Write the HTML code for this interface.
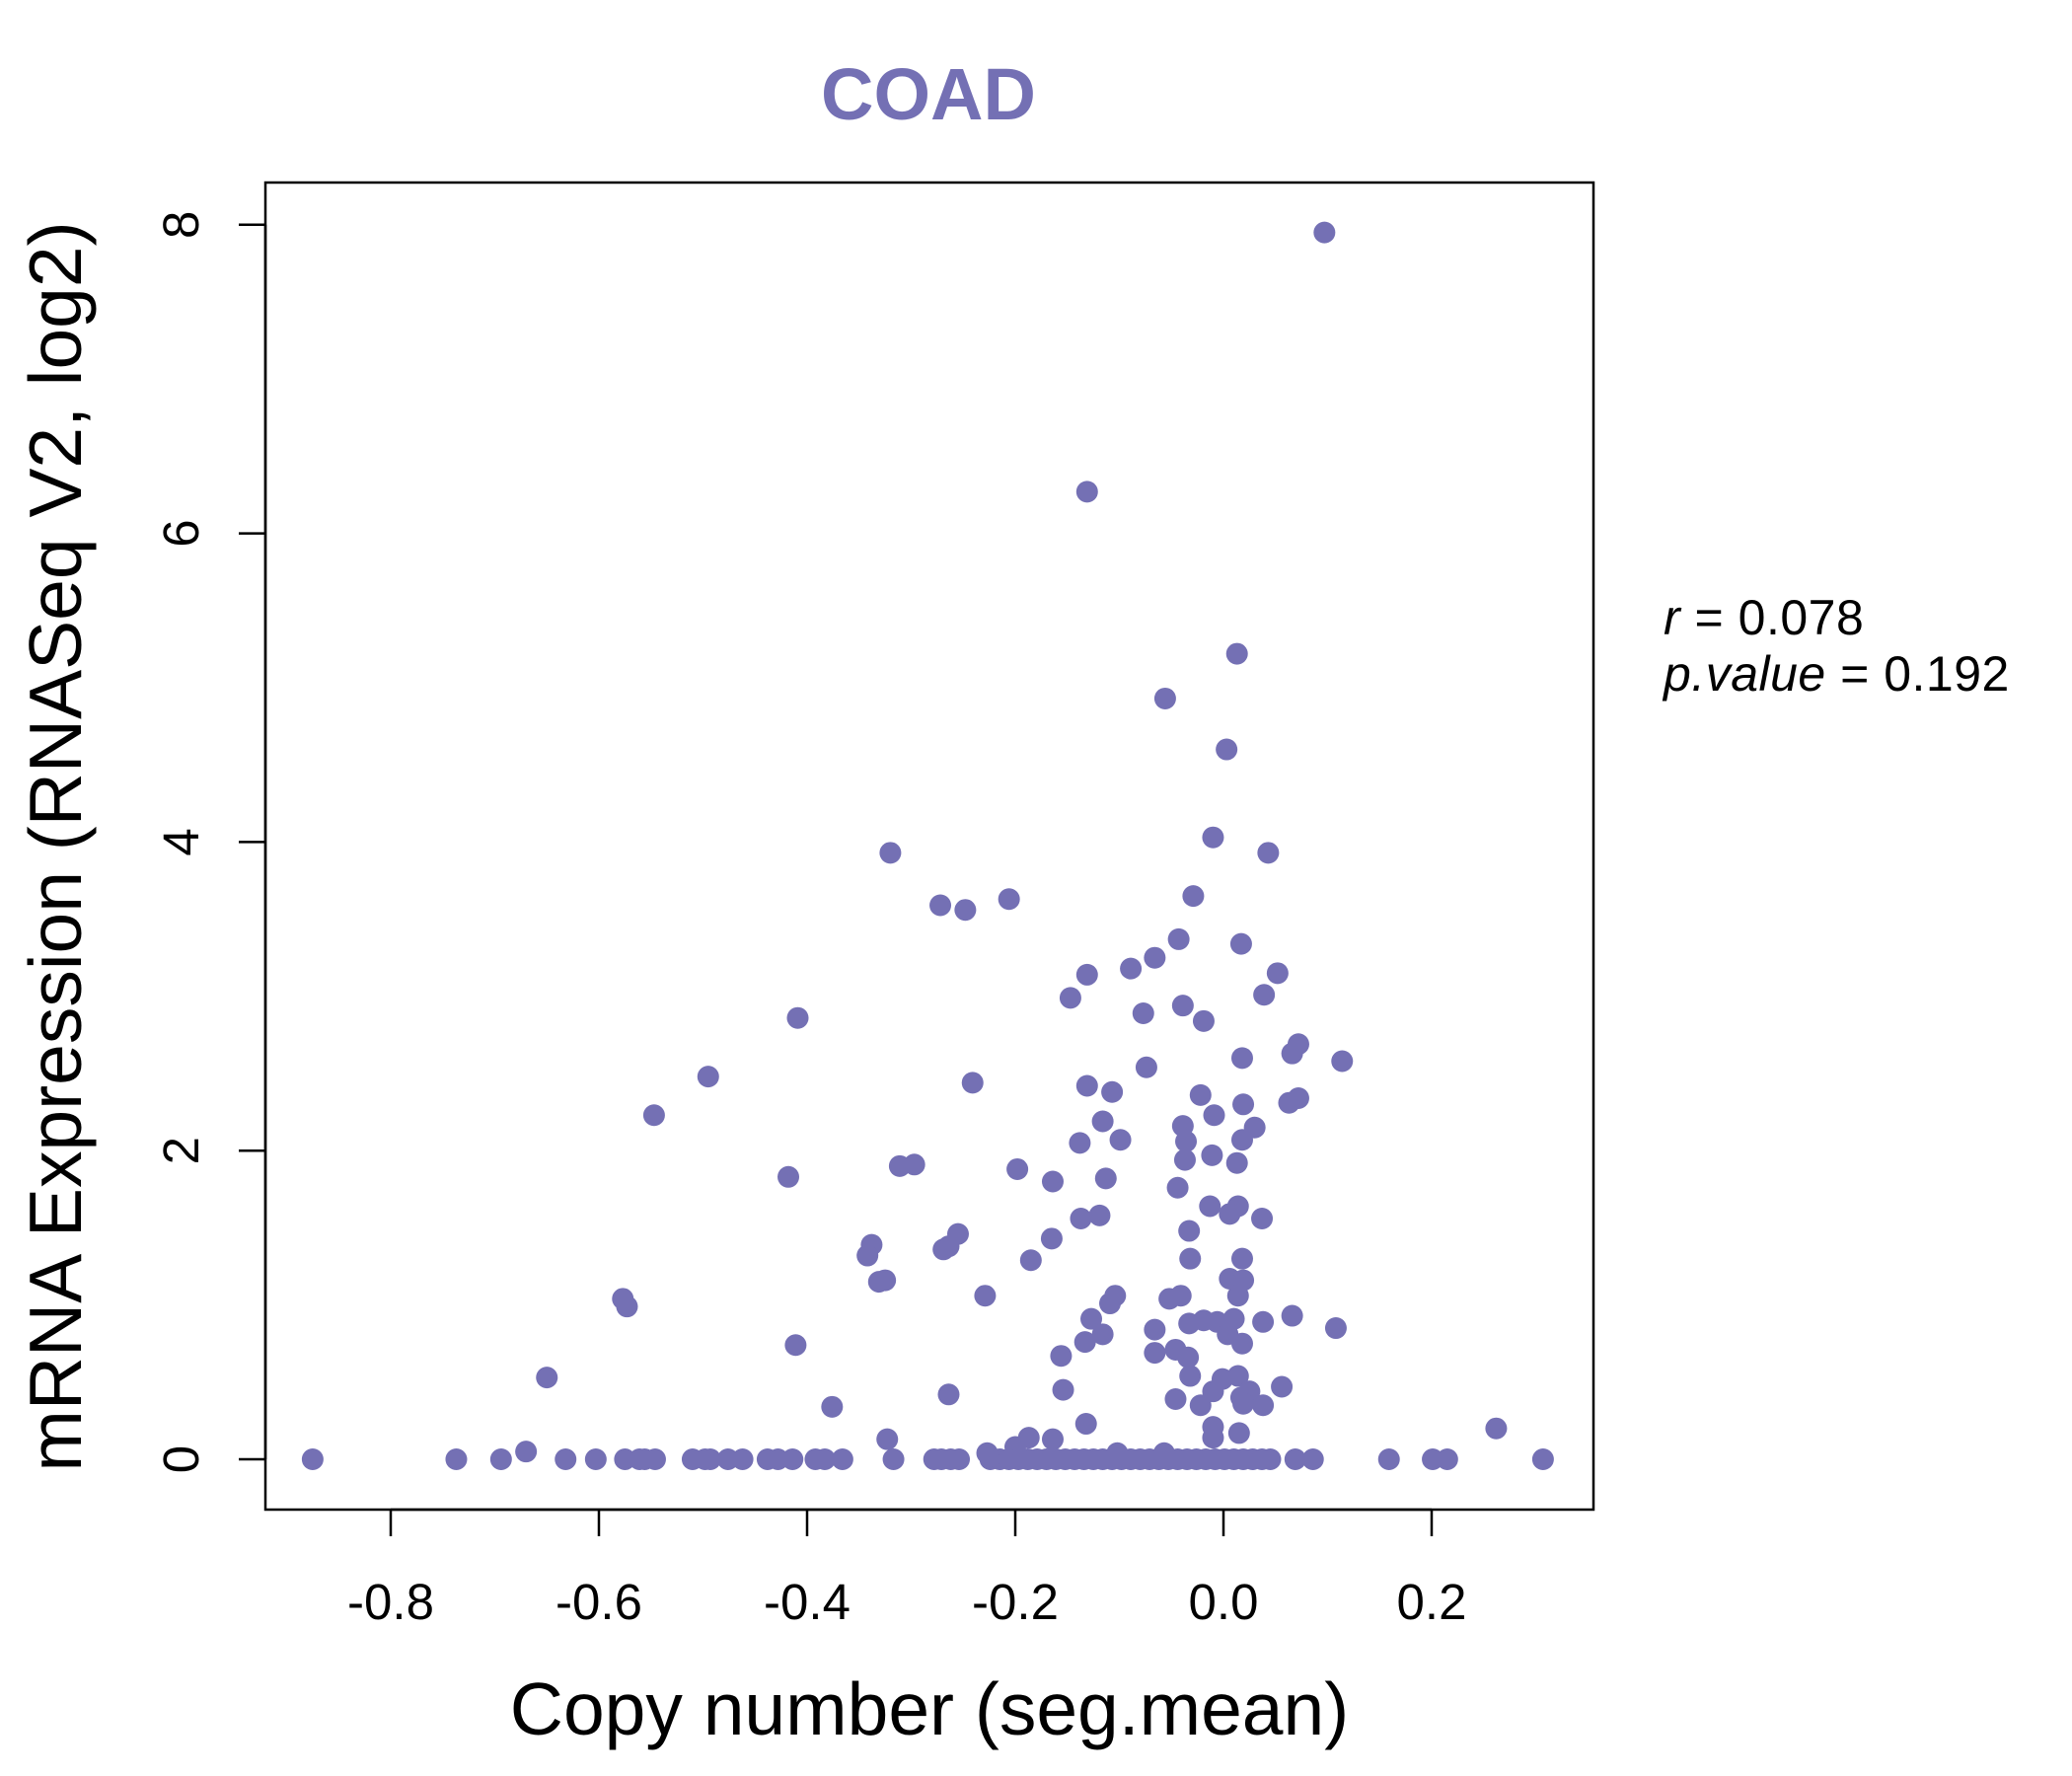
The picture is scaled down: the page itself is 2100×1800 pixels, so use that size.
<!DOCTYPE html>
<html><head><meta charset="utf-8">
<style>
html,body{margin:0;padding:0;background:#fff;}
svg{display:block;font-family:"Liberation Sans",sans-serif;}
</style></head>
<body>
<svg id="chart" width="2100" height="1800" viewBox="0 0 2100 1800" xmlns="http://www.w3.org/2000/svg">
<text x="941" y="121" text-anchor="middle" font-size="74" font-weight="bold" fill="#7470b4">COAD</text>
<rect x="269" y="185" width="1346" height="1345" fill="none" stroke="#000" stroke-width="2.5"/>
<g id="xaxis"></g>
<g id="yaxis"></g>
<g id="points"></g>
<text x="942" y="1758" text-anchor="middle" font-size="75">Copy number (seg.mean)</text>
<text transform="translate(82,858) rotate(-90)" text-anchor="middle" font-size="75">mRNA Expression (RNASeq V2, log2)</text>
<text x="1686" y="643" font-size="50" letter-spacing="0.5"><tspan font-style="italic">r</tspan> = 0.078</text>
<text x="1686" y="700" font-size="50" letter-spacing="0.5"><tspan font-style="italic">p.value</tspan> = 0.192</text>
</svg>
<script>
const xTicks = [-0.8, -0.6, -0.4, -0.2, 0.0, 0.2];
const xTickLabels = ["-0.8", "-0.6", "-0.4", "-0.2", "0.0", "0.2"];
const yTicks = [0, 2, 4, 6, 8];
const yTickLabels = ["0", "2", "4", "6", "8"];
const xValues = [0.097,-0.131,0.013,-0.056,0.003,-0.010,-0.32,0.043,-0.272,-0.248,-0.206,-0.029,0.017,-0.043,-0.066,-0.089,-0.131,0.052,0.039,-0.147,-0.039,-0.077,-0.019,-0.409,0.072,0.066,0.018,0.114,-0.074,-0.495,-0.241,-0.131,-0.107,-0.022,0.019,0.072,0.063,-0.009,-0.547,-0.116,-0.039,0.030,-0.138,-0.099,-0.036,0.018,-0.011,-0.037,0.013,-0.311,-0.297,-0.198,-0.418,-0.113,-0.164,-0.044,-0.013,0.014,0.006,0.037,-0.137,-0.119,-0.165,-0.033,-0.255,-0.264,-0.269,-0.338,-0.342,-0.032,0.018,-0.185,-0.325,-0.331,0.006,0.019,-0.577,-0.573,-0.229,-0.104,-0.109,-0.052,-0.041,0.014,0.066,-0.127,-0.033,-0.019,-0.006,0.010,0.038,0.108,-0.066,0.004,-0.116,-0.133,0.018,-0.411,-0.046,-0.066,-0.034,-0.156,-0.032,-0.001,0.014,-0.650,0.056,-0.010,0.025,-0.154,-0.264,0.017,-0.046,0.038,-0.022,0.019,-0.376,-0.132,0.262,-0.010,-0.010,0.015,-0.323,-0.187,-0.164,-0.200,-0.670,-0.227,-0.102,-0.057,
-0.875,-0.737,-0.694,-0.632,-0.603,-0.575,-0.561,-0.556,-0.546,-0.510,-0.498,-0.493,-0.476,-0.462,-0.438,-0.428,-0.414,-0.392,-0.383,-0.366,-0.317,-0.278,-0.271,-0.262,-0.254,
-0.224,-0.215,-0.206,-0.197,-0.188,-0.179,-0.170,-0.161,-0.152,-0.143,-0.134,-0.125,-0.116,-0.107,-0.098,-0.089,-0.080,-0.071,-0.062,-0.053,-0.044,-0.035,-0.026,-0.017,-0.008,0.001,0.010,0.019,0.028,0.037,0.045,
0.069,0.086,0.159,0.201,0.215,0.307];
const yValues = [7.95,6.27,5.22,4.93,4.60,4.03,3.93,3.93,3.59,3.56,3.63,3.65,3.34,3.37,3.25,3.18,3.14,3.15,3.01,2.99,2.94,2.89,2.84,2.86,2.69,2.63,2.60,2.58,2.54,2.48,2.44,2.42,2.38,2.36,2.30,2.34,2.31,2.23,2.23,2.19,2.16,2.15,2.05,2.07,2.06,2.07,1.97,1.94,1.92,1.90,1.91,1.88,1.83,1.82,1.80,1.76,1.64,1.64,1.59,1.56,1.56,1.58,1.43,1.48,1.46,1.38,1.36,1.39,1.32,1.30,1.30,1.29,1.16,1.15,1.17,1.16,1.04,0.99,1.06,1.06,1.01,1.04,1.06,1.06,0.93,0.91,0.88,0.90,0.89,0.91,0.89,0.85,0.84,0.81,0.81,0.76,0.75,0.74,0.71,0.69,0.66,0.67,0.54,0.52,0.54,0.53,0.47,0.44,0.44,0.45,0.42,0.40,0.39,0.35,0.35,0.36,0.34,0.23,0.20,0.21,0.14,0.17,0.13,0.14,0.13,0.08,0.05,0.04,0.04,0.04,
0,0,0,0,0,0,0,0,0,0,0,0,0,0,0,0,0,0,0,0,0,0,0,0,0,
0,0,0,0,0,0,0,0,0,0,0,0,0,0,0,0,0,0,0,0,0,0,0,0,0,0,0,0,0,0,0,
0,0,0,0,0,0];

const NS = "http://www.w3.org/2000/svg";
function xScale(v){ return 1240 + v * 1055; }
function yScale(v){ return 1479 - v * 156.4; }
function mk(tag, attrs){ const e = document.createElementNS(NS, tag); for (const k in attrs) e.setAttribute(k, attrs[k]); return e; }

const xa = document.getElementById('xaxis');
const xl = mk('line', {x1: xScale(xTicks[0]), x2: xScale(xTicks[xTicks.length-1]), y1: 1530, y2: 1530, stroke: '#000', 'stroke-width': 2.5});


xa.appendChild(xl);
xTicks.forEach((t, i) => {
  const tk = mk('line', {x1: xScale(t), x2: xScale(t), y1: 1530, y2: 1557, stroke: '#000', 'stroke-width': 2.5});
  
  
  xa.appendChild(tk);
  const lb = mk('text', {x: xScale(t), y: 1641, 'text-anchor': 'middle', 'font-size': 51});
  lb.textContent = xTickLabels[i];
  
  
  xa.appendChild(lb);
});

const ya = document.getElementById('yaxis');
const yl = mk('line', {x1: 269, x2: 269, y1: yScale(yTicks[0]), y2: yScale(yTicks[yTicks.length-1]), stroke: '#000', 'stroke-width': 2.5});


ya.appendChild(yl);
yTicks.forEach((t, i) => {
  const tk = mk('line', {x1: 242, x2: 269, y1: yScale(t), y2: yScale(t), stroke: '#000', 'stroke-width': 2.5});
  
  
  ya.appendChild(tk);
  const lb = mk('text', {transform: 'translate(201,' + yScale(t) + ') rotate(-90)', 'text-anchor': 'middle', 'font-size': 51});
  lb.textContent = yTickLabels[i];
  
  
  ya.appendChild(lb);
});

const pg = document.getElementById('points');
xValues.forEach((xv, i) => {
  const c = mk('circle', {cx: xScale(xv), cy: yScale(yValues[i]), r: 11, fill: '#7470b4'});
  
  
  pg.appendChild(c);
});
</script>
</body></html>
